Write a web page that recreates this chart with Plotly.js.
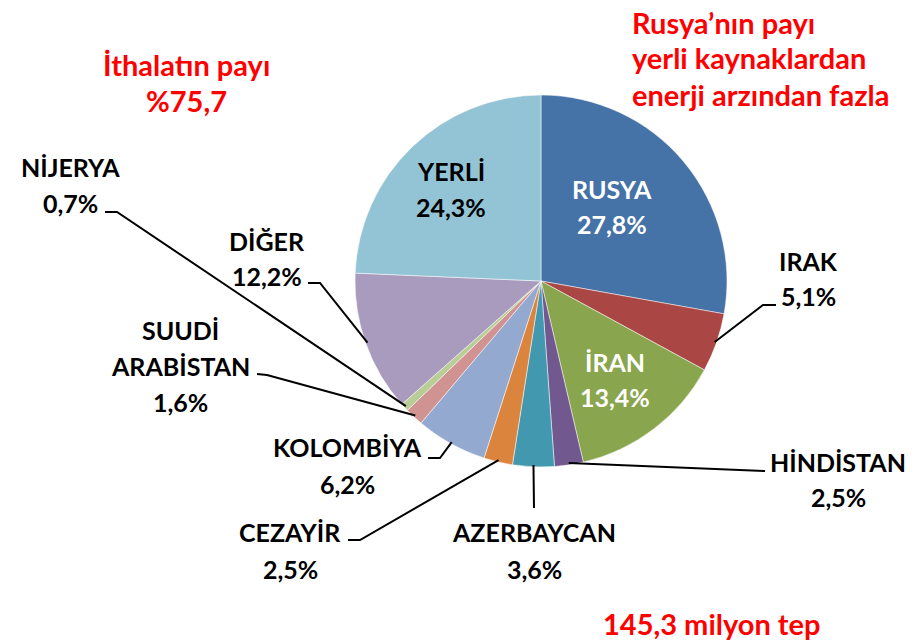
<!DOCTYPE html>
<html>
<head>
<meta charset="utf-8">
<script src="https://cdn.plot.ly/plotly-3.0.1.min.js"></script>
<style>html,body{margin:0;padding:0;background:#fff;}#chart{width:924px;height:643px;}</style>
</head>
<body>
<div id="chart"></div>
<script>
// ---- data ----
const labels = ['RUSYA','IRAK','İRAN','HİNDİSTAN','AZERBAYCAN','CEZAYİR','KOLOMBİYA','SUUDİ ARABİSTAN','NİJERYA','DİĞER','YERLİ'];
const shares = [27.8, 5.1, 13.4, 2.5, 3.6, 2.5, 6.2, 1.6, 0.7, 12.2, 24.3];
const importShareText = ['İthalatın payı', '%75,7'];
const noteText = ['Rusya’nın payı', 'yerli kaynaklardan', 'enerji arzından fazla'];
const totalText = '145,3 milyon tep';

// ---- styling / layout ----
const W = 924, H = 643;
const colors = ['#4572A7','#AA4643','#89A54E','#71588F','#4198AF','#DB843D','#93A9CF','#D19392','#B9CD96','#A99BBD','#93C4D6'];
const cx = 541, cy = 281, R = 186;
const FONT = 'Lato, "Open Sans", sans-serif';
const LFS = 25;
// label placement per slice: x,y = center of first text line, gap = line spacing
const place = [
  {x:612, y:189, gap:35, color:'#fff', inside:true},
  {x:808, y:261, gap:35, color:'#000', elbow:[763,305], end:[776,305]},
  {x:615, y:362, gap:35, color:'#fff', inside:true},
  {x:838, y:462, gap:35, color:'#000', elbow:[765,471], end:[765,471]},
  {x:534, y:532, gap:37, color:'#000', elbow:[534,508], end:[534,508]},
  {x:290, y:532, gap:37, color:'#000', elbow:[360,540], end:[348,540]},
  {x:347, y:447, gap:37, color:'#000', elbow:[440,458], end:[428,458]},
  {x:180, y:330, gap:36, color:'#000', elbow:[267,375], end:[257,374]},
  {x:70,  y:167, gap:36, color:'#000', elbow:[117,212], end:[105,212]},
  {x:267, y:241, gap:35, color:'#000', elbow:[320,283], end:[308,283]},
  {x:451, y:171, gap:36, color:'#000', inside:true}
];

const px = x => x / W;
const py = y => 1 - y / H;
const fmt = v => v.toFixed(1).replace('.', ',') + '%';

const annotations = [];
const shapes = [];
const total = shares.reduce((a, b) => a + b, 0);
let cum = 0;
labels.forEach((lab, i) => {
  const mid = (cum + shares[i] / 2) / total;
  cum += shares[i];
  const p = place[i];
  const lines = lab.split(' ').concat([fmt(shares[i])]);
  lines.forEach((t, k) => {
    annotations.push({
      xref:'paper', yref:'paper', x:px(p.x), y:py(p.y + k * p.gap),
      xanchor:'center', yanchor:'middle', showarrow:false, text:t,
      font:{family:FONT, size:LFS, color:p.color, weight:'bold'}
    });
  });
  if (!p.inside) {
    const a = mid * 2 * Math.PI;
    const sx = cx + R * 0.99 * Math.sin(a), sy = cy - R * 0.99 * Math.cos(a);
    const path = `M ${px(sx)} ${py(sy)} L ${px(p.elbow[0])} ${py(p.elbow[1])} L ${px(p.end[0])} ${py(p.end[1])}`;
    shapes.push({type:'path', xref:'paper', yref:'paper', path:path, line:{color:'#000', width:2}});
  }
});

const red = '#FF0000';
const RFS = 29;
importShareText.forEach((t, k) => annotations.push({
  xref:'paper', yref:'paper', x:px(186), y:py(65 + k * 35), xanchor:'center', yanchor:'middle',
  showarrow:false, text:t, font:{family:FONT, size:RFS, color:red, weight:'bold'}
}));
noteText.forEach((t, k) => annotations.push({
  xref:'paper', yref:'paper', x:px(630), y:py(22 + k * 36), xanchor:'left', yanchor:'middle',
  showarrow:false, text:t, font:{family:FONT, size:RFS, color:red, weight:'bold'}
}));
annotations.push({
  xref:'paper', yref:'paper', x:px(712), y:py(623), xanchor:'center', yanchor:'middle',
  showarrow:false, text:totalText, font:{family:FONT, size:RFS, color:red, weight:'bold'}
});

const trace = {
  type:'pie', labels:labels, values:shares, sort:false, direction:'clockwise', rotation:0,
  marker:{colors:colors, line:{color:'rgba(255,255,255,0.5)', width:1}},
  textinfo:'none', hoverinfo:'label+percent', showlegend:false,
  domain:{x:[px(cx - R), px(cx + R)], y:[py(cy + R), py(cy - R)]}
};

Plotly.newPlot('chart', [trace], {
  width:W, height:H, margin:{l:0, r:0, t:0, b:0},
  paper_bgcolor:'#fff', plot_bgcolor:'#fff', showlegend:false,
  annotations:annotations, shapes:shapes
}, {displayModeBar:false, staticPlot:true});
</script>
</body>
</html>
